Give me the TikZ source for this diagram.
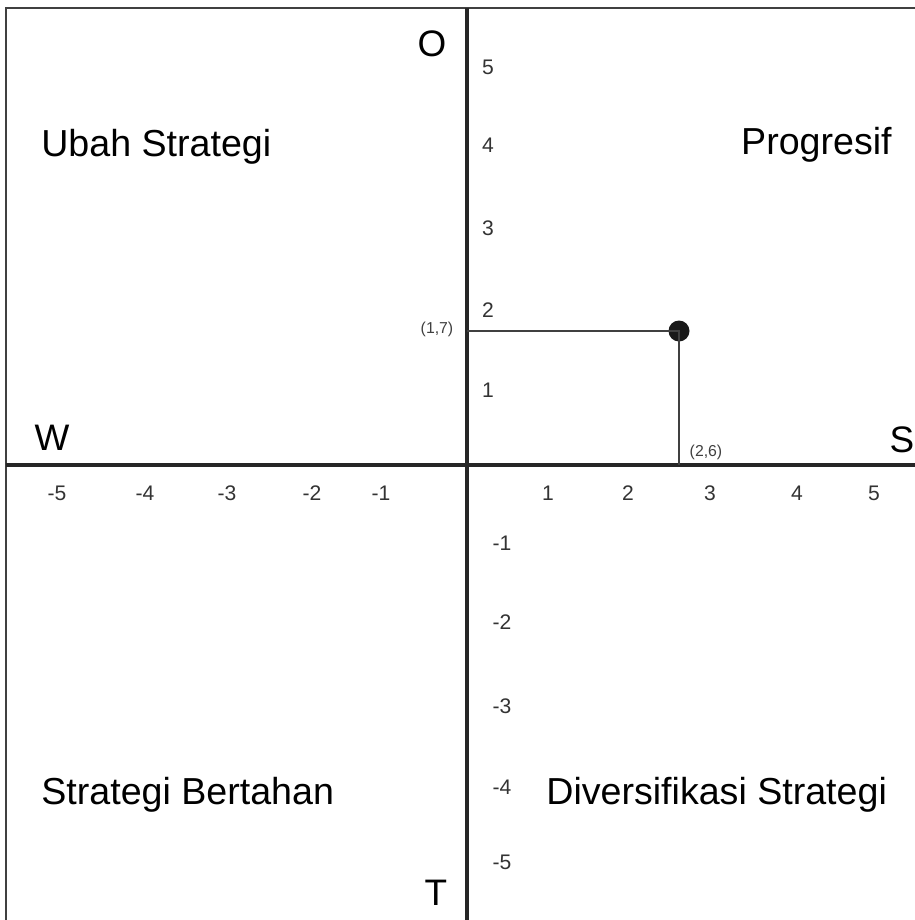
\documentclass[tikz,border=0pt]{standalone}
\usepackage{fontspec}
\setmainfont{Liberation Sans}
\usetikzlibrary{positioning}
\tikzset{
	axisline/.style={line width=2.2pt, black!85},
	frameline/.style={line width=1.4pt, black!75},
	guideline/.style={line width=0.7pt, black!75},
	bigletter/.style={font=\fontsize{21}{24}\selectfont, inner sep=0pt},
	quadlabel/.style={font=\fontsize{21.4}{24}\selectfont, inner sep=0pt},
	ticklabel/.style={font=\fontsize{12}{14}\selectfont, black!80, inner sep=0pt},
	pointlabel/.style={font=\fontsize{9}{11}\selectfont, black!75, inner sep=0pt},
}

\begin{document}
\begin{tikzpicture}[x=0.02cm, y=-0.02cm]
	\useasboundingbox (0,0) rectangle (915,920);
	% frame
	\coordinate (tl) at (6,8);
	\coordinate (tr) at (915,8);
	\coordinate (bl) at (6,920);
	\draw[frameline] (bl) -- (tl) -- (tr);
	% axes
	\coordinate (origin) at (467,465);
	\coordinate (xleft) at (6,465);
	\coordinate (xright) at (915,465);
	\coordinate (ytop) at (467,8);
	\coordinate (ybottom) at (467,920);
	\draw[axisline] (xleft) -- (xright);
	\draw[axisline] (ytop) -- (ybottom);
	% tick labels
	\foreach \v/\px in {-5/57,-4/145,-3/227,-2/312,-1/381,1/548,2/628,3/710,4/797,5/874}{
		\node[ticklabel] (xt\px) at (\px,493) {\v};}
	\foreach \v/\py in {5/67,4/145,3/228,2/310,1/390}{
		\node[ticklabel] (yt\py) at (488,\py) {\v};}
	\foreach \v/\py in {-1/543,-2/622,-3/706,-4/787,-5/862}{
		\node[ticklabel] (yt\py) at (502,\py) {\v};}
	% position
	\node[circle, fill=black!90, minimum size=0.42cm, inner sep=0pt] (pos) at (679,331) {};
	\coordinate (posy) at (467,331);
	\coordinate (posx) at (679,465);
	\draw[guideline] (posy) -- (pos.center) -- (posx);
	\node[pointlabel] (lbly) at (437,329) {(1,7)};
	\node[pointlabel] (lblx) at (706,452) {(2,6)};
	% axis letters
	\node[bigletter] (O) at (432,44) {O};
	\node[bigletter] (W) at (52,438) {W};
	\node[bigletter] (S) at (902,440) {S};
	\node[bigletter] (T) at (436,893) {T};
	% quadrants
	\node[quadlabel, anchor=west] (ubah) at (41,147) {Ubah Strategi};
	\node[quadlabel, anchor=east] (prog) at (892,145) {Progresif};
	\node[quadlabel, anchor=west] (bertahan) at (41,795) {Strategi Bertahan};
	\node[quadlabel, anchor=west] (divers) at (546,795) {Diversifikasi Strategi};
\end{tikzpicture}
\end{document}
